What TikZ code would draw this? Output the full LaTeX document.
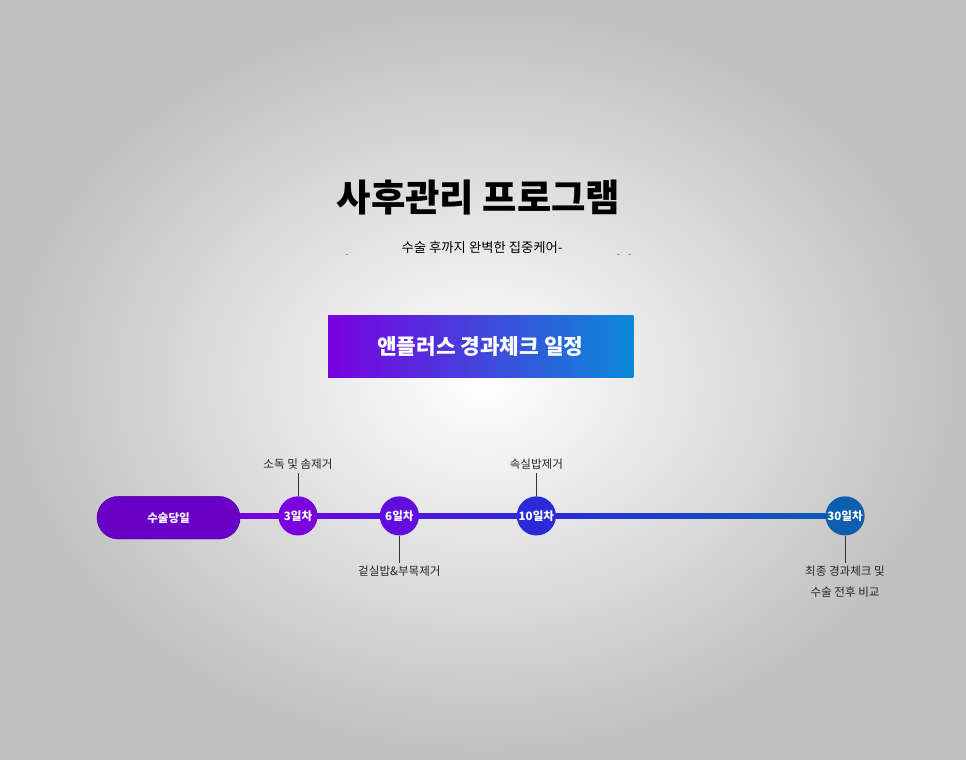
\documentclass[tikz,border=0pt]{standalone}
\usepackage{fontspec}
\setmainfont{Noto Sans CJK KR}
\usepackage{tikz}
\usetikzlibrary{positioning}
\definecolor{violetA}{HTML}{6A00C8}
\definecolor{violetB}{HTML}{7A00E0}
\definecolor{blueA}{HTML}{2A2AD8}
\definecolor{blueB}{HTML}{0A8AD8}
\definecolor{tealA}{HTML}{0C5EB0}
\colorlet{tickLine}{black!80}

\begin{document}
\begin{tikzpicture}[
  x=1pt, y=-1pt,
  every day/.style={
    circle,
    minimum size=44pt,
    inner sep=0pt,
    text=white,
    font=\fontsize{13}{13}\selectfont\bfseries,
  },
  every note/.style={
    font=\fontsize{13}{23}\selectfont,
    align=center,
    text=black!85,
  },
]
\shade[inner color=white, outer color=black!25] (-60,-160) rectangle (1026,694);
\useasboundingbox (0,0) rectangle (966,534);
\node (title) at (478,62) {\fontsize{42}{42}\selectfont\bfseries 사후관리 프로그램};
\node (sub) at (482,118) {\fontsize{15}{15}\selectfont 수술 후까지 완벽한 집중케어-};
\foreach \dx in {330,635,648}
  \fill[black!60] (\dx,126) circle (0.8);
\shade[left color=violetB, right color=blueB] (309,195) rectangle (652,264);
\node[text=white] (plan) at (480,230) {\fontsize{24}{24}\selectfont\bfseries 앤플러스 경과체크 일정};
% timeline
\coordinate (start) at (205,420);
\coordinate (end) at (890,420);
\shade[left color=violetB, right color=blueA, draw=none]
  (205,417) rectangle (560,423);
\shade[left color=blueA, right color=tealA, draw=none]
  (560,417) rectangle (890,423);
\node[rounded corners=24pt, fill=violetA, draw=violetA!70!black,
  minimum width=161pt, minimum height=48pt, text=white,
  font=\fontsize{13}{13}\selectfont\bfseries] (day0) at (129.5,422) {수술당일};
\node[every day, fill=violetB] (day3) at (275,420) {3일차};
\node[every day, fill=violetB!70!blueA] (day6) at (389,420) {6일차};
\node[every day, fill=blueA] (day10) at (543,420) {10일차};
\node[every day, fill=tealA] (day30) at (890,420) {30일차};
\node[every note] (note3) at (275,362) {소독 및 솜제거};
\node[every note] (note10) at (543,362) {속실밥제거};
\node[every note] (note6) at (389,482) {겉실밥\&부목제거};
\node[every note] (note30) at (890,494) {최종 경과체크 및\\수술 전후 비교};
\draw[tickLine] (note3) -- (day3);
\draw[tickLine] (note10) -- (day10);
\draw[tickLine] (day6) -- (note6);
\draw[tickLine] (day30) -- (note30);
\end{tikzpicture}
\end{document}
